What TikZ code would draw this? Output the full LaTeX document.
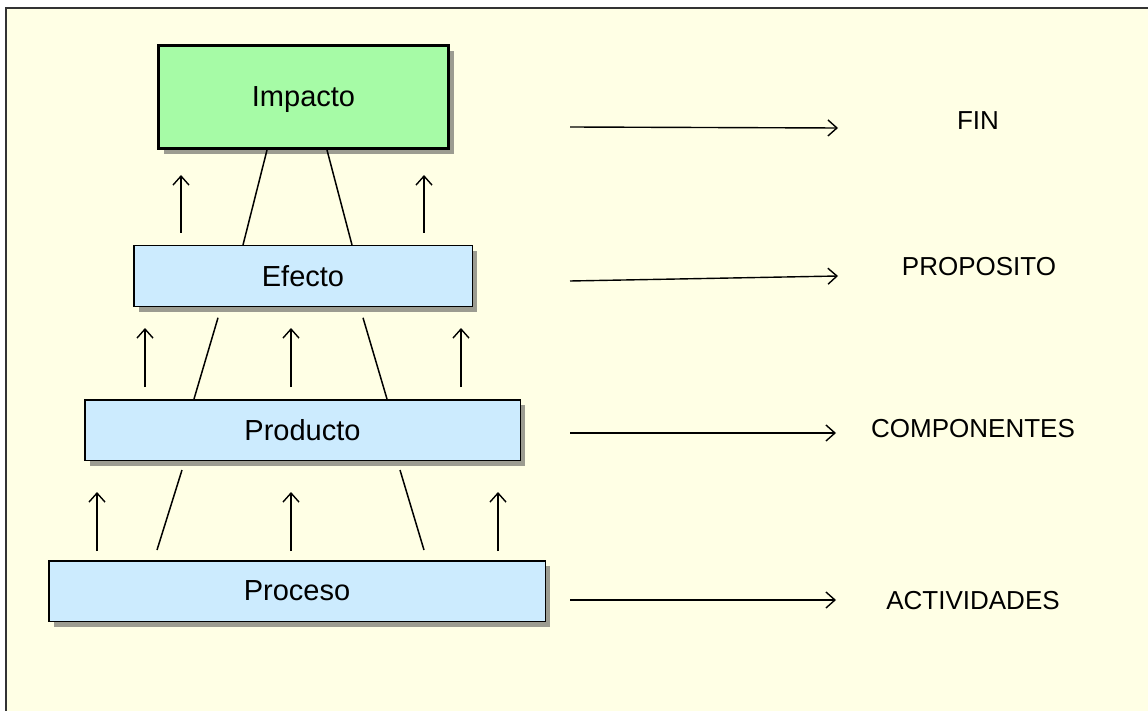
\documentclass[tikz,border=0pt]{standalone}
\usepackage{fontspec}
\setmainfont{Liberation Sans}
\usetikzlibrary{arrows.meta,shadows}

\definecolor{papel}{HTML}{FFFFE5}
\definecolor{verde}{HTML}{A6FBA6}
\definecolor{celeste}{HTML}{CCEBFE}

\begin{document}
\begin{tikzpicture}[x=1pt,y=-1pt,>={Straight Barb[length=9pt,width=16pt]},
  caja/.style={draw=black, line width=1.5pt, fill=celeste, inner sep=0pt,
    font=\fontsize{29}{32}\selectfont, text depth=0pt,
    drop shadow={shadow xshift=5pt, shadow yshift=-5.5pt, fill=black!70, opacity=0.55}},
  nivel/.style={font=\fontsize{26}{30}\selectfont},
  flecha/.style={->, line width=1.4pt},
  lado/.style={line width=1.5pt}]
\useasboundingbox (0,0) rectangle (1148,711);
% fondo
\fill[white] (0,0) rectangle (1148,711);
\fill[papel] (6,8) rectangle (1148,711);
\draw[line width=1.5pt, black!80] (6,711) -- (6,8) -- (1148,8);

% cajas
\node[caja, fill=verde, line width=3pt, minimum width=290pt, minimum height=103pt]
  (impacto) at (303.5,97) {Impacto};
\node[caja, minimum width=338.5pt, minimum height=60.5pt] (efecto) at (303,276) {Efecto};
\node[caja, minimum width=435.5pt, minimum height=60.5pt] (producto) at (302.5,430) {Producto};
\node[caja, minimum width=496.5pt, minimum height=60.5pt] (proceso) at (297,591) {Proceso};

% lados de la piramide
\draw[lado] ([xshift=-36.5pt]impacto.south) -- ([xshift=-60pt]efecto.north);
\draw[lado] ([xshift=23.5pt]impacto.south) -- ([xshift=49pt]efecto.north);
\draw[lado] ([xshift=-85pt,yshift=-10.75pt]efecto.south) -- ([xshift=-108.5pt]producto.north);
\draw[lado] ([xshift=60pt,yshift=-10.75pt]efecto.south) -- ([xshift=84.5pt]producto.north);
\draw[lado] ([xshift=-120.5pt,yshift=-9pt]producto.south) -- ([xshift=-140pt,yshift=10pt]proceso.north);
\draw[lado] ([xshift=97.5pt,yshift=-9pt]producto.south) -- ([xshift=127pt,yshift=10pt]proceso.north);

% flechas hacia arriba
\foreach \x in {181,424} {
  \coordinate (ua\x) at (\x,233); \coordinate (ub\x) at (\x,175);
  \draw[flecha] (ua\x) -- (ub\x);
}
\foreach \x in {145,291,461} {
  \coordinate (va\x) at (\x,387); \coordinate (vb\x) at (\x,328);
  \draw[flecha] (va\x) -- (vb\x);
}
\foreach \x in {97,291,498} {
  \coordinate (wa\x) at (\x,551); \coordinate (wb\x) at (\x,492);
  \draw[flecha] (wa\x) -- (wb\x);
}

% niveles de la matriz
\node[nivel] (fin) at (978,121) {FIN};
\node[nivel] (proposito) at (979,267) {PROPOSITO};
\node[nivel] (componentes) at (973,429) {COMPONENTES};
\node[nivel] (actividades) at (973,601) {ACTIVIDADES};

\coordinate (f1) at (570,127); \coordinate (f2) at (838,128);
\coordinate (p1) at (570,281); \coordinate (p2) at (838,276);
\coordinate (c1) at (570,433); \coordinate (c2) at (836,433);
\coordinate (a1) at (570,600); \coordinate (a2) at (836,600);
\draw[flecha] (f1) -- (f2);
\draw[flecha] (p1) -- (p2);
\draw[flecha] (c1) -- (c2);
\draw[flecha] (a1) -- (a2);
\end{tikzpicture}
\end{document}
